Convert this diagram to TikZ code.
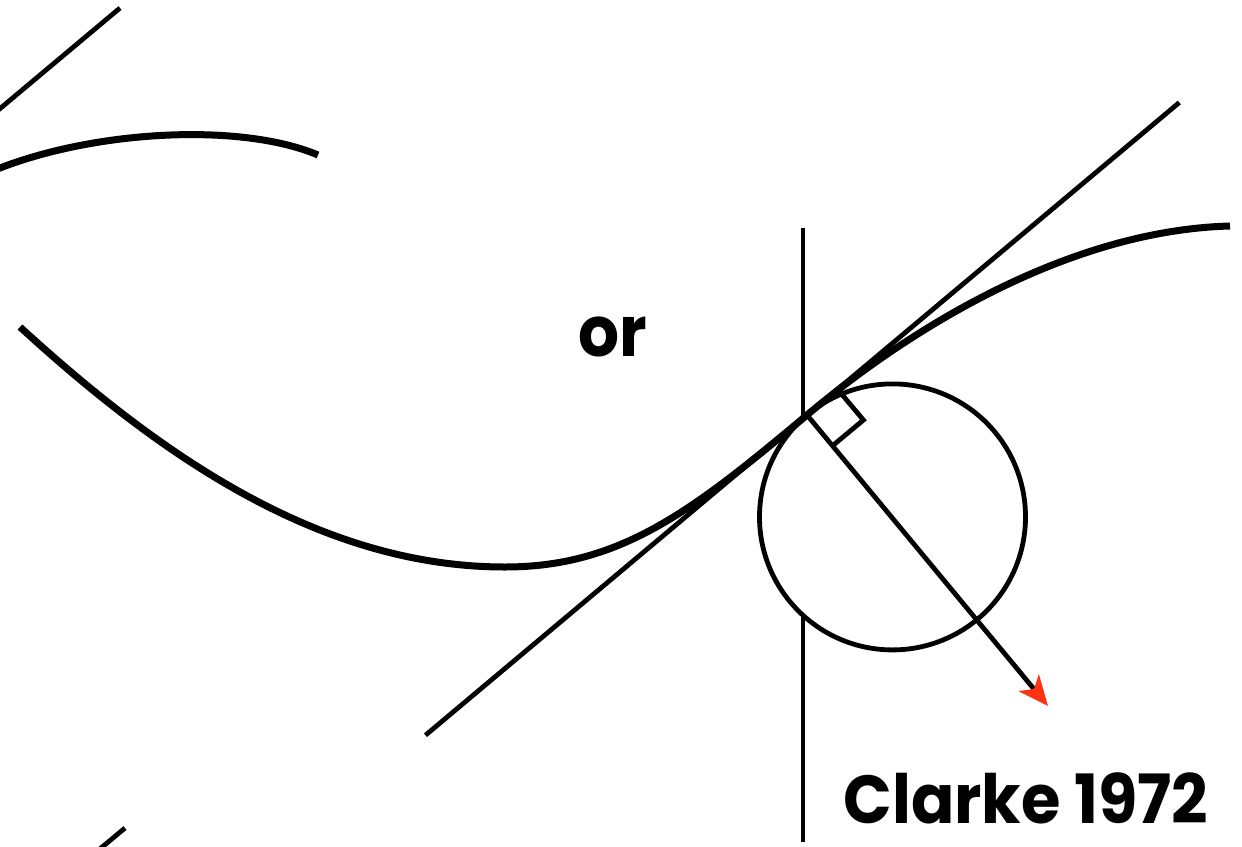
\documentclass[tikz,border=0pt]{standalone}
\usepackage{fontspec}
\setmainfont{Poppins}
\usetikzlibrary{arrows.meta}
\definecolor{arrowred}{HTML}{FF3311}
\begin{document}
\begin{tikzpicture}[x=1pt,y=-1pt,
  curveline/.style={line width=7pt},
  straightline/.style={line width=4.8pt},
  vline/.style={line width=3.8pt},
  lbl/.style={font=\fontsize{70}{78}\selectfont\bfseries, inner sep=0pt, anchor=base}]
\useasboundingbox (0,0) rectangle (1242,846);
\clip (0,0) rectangle (1242,846);
% named points
\coordinate (vtop) at (803,228);
\coordinate (vbot) at (803,842);
\coordinate (P) at (807,415);
\coordinate (ctr) at (892.5,516.9);
\coordinate (tA) at (425.5,735.2);
\coordinate (tB) at (1179.3,102.5);
\coordinate (q1) at (837.6,389.3);
\coordinate (q2) at (863.4,420);
\coordinate (q3) at (832.7,445.6);
\coordinate (tip) at (1048,706);
% vertical line
\draw[vline] (vtop) -- (vbot);
% osculating circle (covers the vertical line)
\draw[straightline, fill=white] (ctr) circle [radius=133pt];
% tangent line
\draw[straightline] (tA) -- (tB);
% main curve
\draw[curveline] (20,327) .. controls (160,455) and (320,567) .. (505,567)
   .. controls (620,567) and (692,511.5) .. (P)
   .. controls (922,318.5) and (1078,230) .. (1230,226);
% top-left arc and lines
\draw[curveline] (-10,172) .. controls (90,130) and (240,122) .. (318,155);
\coordinate (tl1) at (-10,117);
\coordinate (tl2) at (120,8);
\draw[straightline] (tl1) -- (tl2);
\coordinate (bl1) at (125,828);
\coordinate (bl2) at (95,853);
\draw[straightline] (bl1) -- (bl2);
% right angle mark
\draw[straightline, line join=miter] (P) -- (q1) -- (q2) -- (q3);
% normal with red arrow
\draw[straightline, -{Stealth[length=30pt,width=26pt,inset=8pt,color=arrowred]}] (P) -- (tip);
% labels
\node[lbl] (or) at (613,356) {\scalebox{0.92}[1]{or}};
\node[lbl, font=\fontsize{68}{76}\selectfont\bfseries] (clarke) at (1026,823) {\scalebox{0.94}[1]{Clarke 1972}};
\end{tikzpicture}
\end{document}
